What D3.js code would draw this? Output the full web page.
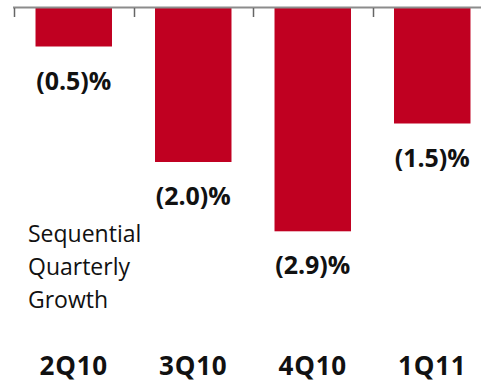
<!DOCTYPE html>
<html>
<head>
<meta charset="utf-8">
<script src="https://cdn.jsdelivr.net/npm/d3@7"></script>
<style>
  html, body { margin: 0; padding: 0; background: #fff; }
  svg { display: block; }
</style>
</head>
<body>
<svg id="chart" width="481" height="383"></svg>
<script>
// Sequential quarterly growth, in percent
const quarters = ["2Q10", "3Q10", "4Q10", "1Q11"];
const growth = [-0.5, -2.0, -2.9, -1.5];
const valueLabels = ["(0.5)%", "(2.0)%", "(2.9)%", "(1.5)%"];
const noteLines = ["Sequential", "Quarterly", "Growth"];

const svg = d3.select("#chart");
const axisY = 8;

const x = d3.scaleBand()
  .domain(quarters)
  .range([14, 492])
  .paddingInner(0.36)
  .paddingOuter(0.18);

const y = d3.scaleLinear()
  .domain([-3, 0])
  .range([axisY + 3 * 77, axisY]);

// bars hang down from the zero line
svg.append("g")
  .selectAll("rect")
  .data(growth)
  .join("rect")
  .attr("x", (d, i) => x(quarters[i]))
  .attr("width", x.bandwidth())
  .attr("y", y(0))
  .attr("height", d => y(d) - y(0))
  .attr("fill", "#C00021");

// zero line with category separators
const step = x.step();
svg.append("line")
  .attr("x1", 13).attr("x2", 481)
  .attr("y1", axisY - 0.5).attr("y2", axisY - 0.5)
  .attr("stroke", "#8c8c8c")
  .attr("stroke-width", 2);

svg.append("g")
  .selectAll("line")
  .data(quarters)
  .join("line")
  .attr("x1", d => Math.round(x(d) - step * x.paddingInner() / 2) + 0.5)
  .attr("x2", d => Math.round(x(d) - step * x.paddingInner() / 2) + 0.5)
  .attr("y1", axisY)
  .attr("y2", axisY + 9)
  .attr("stroke", "#666")
  .attr("stroke-width", 1.5);

// value labels under each bar
svg.append("g")
  .selectAll("text")
  .data(growth)
  .join("text")
  .attr("x", (d, i) => x(quarters[i]) + x.bandwidth() / 2)
  .attr("y", d => y(d) + 43)
  .attr("text-anchor", "middle")
  .attr("font-family", "'Open Sans', sans-serif")
  .attr("font-weight", "bold")
  .attr("font-size", 25)
  .attr("fill", "#111")
  .text((d, i) => valueLabels[i]);

// category labels along the bottom
svg.append("g")
  .selectAll("text")
  .data(quarters)
  .join("text")
  .attr("x", d => x(d) + x.bandwidth() / 2)
  .attr("y", 375)
  .attr("text-anchor", "middle")
  .attr("font-family", "'Open Sans', sans-serif")
  .attr("font-weight", "bold")
  .attr("font-size", 26)
  .attr("letter-spacing", 0.8)
  .attr("fill", "#111")
  .text(d => d);

// side note
svg.append("text")
  .attr("font-family", "'Open Sans', sans-serif")
  .attr("font-size", 23)
  .attr("fill", "#111")
  .selectAll("tspan")
  .data(noteLines)
  .join("tspan")
  .attr("x", 28)
  .attr("y", (d, i) => 242 + i * 33)
  .text(d => d);
</script>
</body>
</html>
